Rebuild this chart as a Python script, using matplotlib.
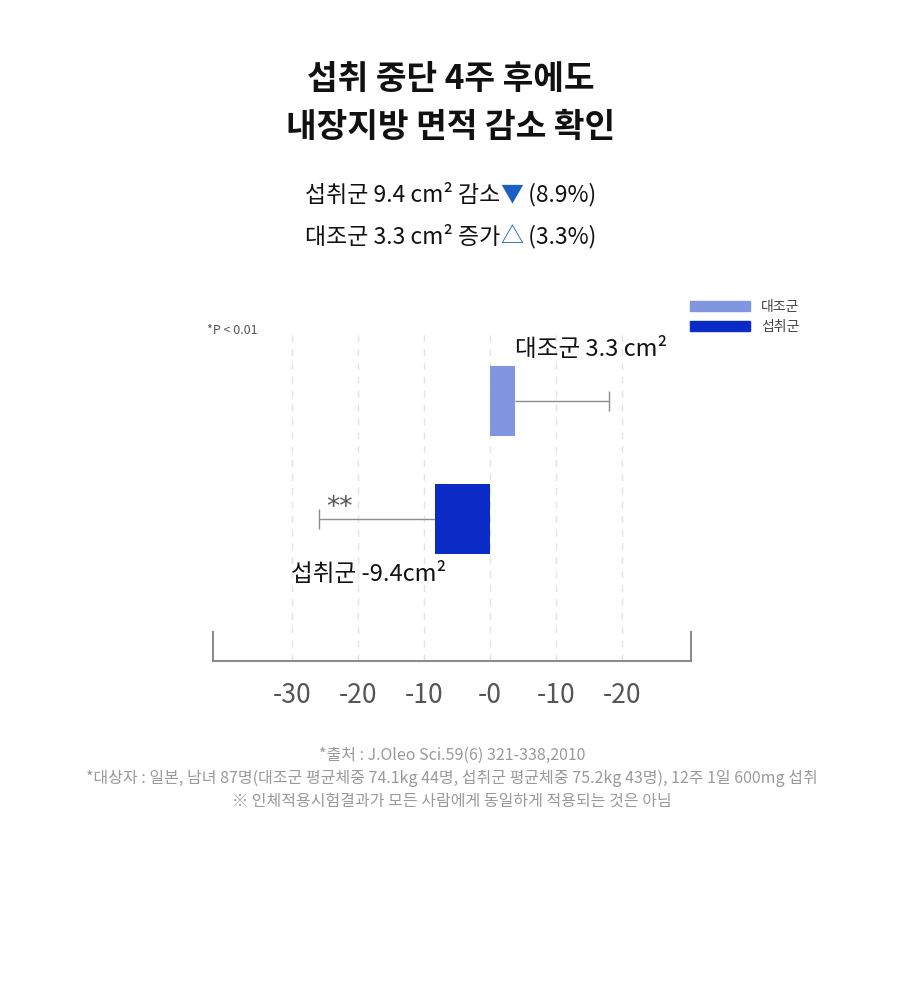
import matplotlib
matplotlib.use('Agg')
import matplotlib.pyplot as plt
from matplotlib.patches import Patch

plt.rcParams['font.family'] = ['Noto Sans CJK KR', 'DejaVu Sans']

## DATA (x in the chart's own grid units)
groups = ['섭취군', '대조군']
bar_values = [-8.3, 3.8]
err_lengths = [17.6, 14.2]
group_colors = ['#0a2bc6', '#8196e0']
bar_labels = ['섭취군 -9.4cm²', '대조군 3.3 cm²']
tick_values = [-30, -20, -10, 0, 10, 20]
tick_labels = ['-30', '-20', '-10', '-0', '-10', '-20']

title_lines = ['섭취 중단 4주 후에도', '내장지방 면적 감소 확인']
summary_lines = [
    [('섭취군 9.4 cm² 감소', '#111111'), ('▼', '#1a5fc4'), (' (8.9%)', '#111111')],
    [('대조군 3.3 cm² 증가', '#111111'), ('△', '#1a5fc4'), (' (3.3%)', '#111111')],
]
notes = ['*출처 : J.Oleo Sci.59(6) 321-338,2010',
         '*대상자 : 일본, 남녀 87명(대조군 평균체중 74.1kg 44명, 섭취군 평균체중 75.2kg 43명), 12주 1일 600mg 섭취',
         '※ 인체적용시험결과가 모든 사람에게 동일하게 적용되는 것은 아님']

W, H = 900, 998
fig = plt.figure(figsize=(W / 100, H / 100), dpi=100)
fig.patch.set_facecolor('white')

#%% titles
fig.text(451 / W, 1 - 80 / H, title_lines[0], ha='center', va='center',
         fontsize=24, fontweight='bold', color='#111111')
fig.text(451 / W, 1 - 128 / H, title_lines[1], ha='center', va='center',
         fontsize=24, fontweight='bold', color='#111111')

# summary lines with a coloured triangle in the middle
renderer = fig.canvas.get_renderer()
for yy, parts in zip([195, 237], summary_lines):
    arts = []
    prefix = ''
    for s, c in parts:
        t = fig.text(0, 1 - yy / H, s, color=c, fontsize=16.5, va='center', ha='left')
        arts.append(t)
    # place pieces one after another
    for i, t in enumerate(arts):
        if i == 0:
            offs = 0
        else:
            probe = fig.text(0, 0, prefix, fontsize=16.5)
            offs = probe.get_window_extent(renderer).width
            probe.remove()
        t.set_x(offs / W)
        prefix += parts[i][0]
    total = arts[-1].get_window_extent(renderer).x1 - arts[0].get_window_extent(renderer).x0
    x0 = 451 - total / 2
    for t in arts:
        t.set_x(t.get_position()[0] + x0 / W)

#%% chart
ax = fig.add_axes([213 / W, 337 / H, 478 / W, 333 / H])
ypos = [0, 1]
ax.barh(ypos, bar_values, height=0.59, color=group_colors, zorder=3)

lower = [e if v < 0 else 0 for v, e in zip(bar_values, err_lengths)]
upper = [e if v >= 0 else 0 for v, e in zip(bar_values, err_lengths)]
eb = ax.errorbar(bar_values, ypos, xerr=[lower, upper], fmt='none', ecolor='#8c8c8c',
                 elinewidth=1, capsize=7, capthick=1, zorder=2)
# keep only the cap at the far end of each error bar
left_caps, right_caps = eb[1]
left_caps.set_markevery([i for i, v in enumerate(lower) if v > 0])
right_caps.set_markevery([i for i, v in enumerate(upper) if v > 0])

ax.set_xlim(-41.97, 30.45)
ax.set_ylim(-1.203, 1.619)
ax.set_xticks(tick_values)
ax.set_xticklabels(tick_labels)
ax.set_yticks([])
ax.tick_params(axis='x', length=0, pad=15, labelsize=19, labelcolor='#555555')
ax.xaxis.grid(True, color='#e3e3e3', linestyle=(0, (5, 5)), linewidth=1)
ax.set_axisbelow(True)

ax.spines['top'].set_visible(False)
for side in ['left', 'right', 'bottom']:
    ax.spines[side].set_color('#8c8c8c')
    ax.spines[side].set_linewidth(1.5)
ax.spines['left'].set_bounds(-1.203, -0.958)
ax.spines['right'].set_bounds(-1.203, -0.958)

# value labels
ax.annotate(bar_labels[1], xy=(bar_values[1], ypos[1]), xytext=(0, 37),
            textcoords='offset points', ha='left', va='center', fontsize=17, color='#111111')
ax.annotate(bar_labels[0], xy=(bar_values[0] - err_lengths[0], ypos[0]), xytext=(-20, -40),
            textcoords='offset points', ha='left', va='center', fontsize=17, color='#111111')
ax.annotate('**', xy=(bar_values[0] - err_lengths[0], ypos[0]), xytext=(5, 8),
            textcoords='offset points', ha='left', va='center', fontsize=19,
            color='#555555', family='DejaVu Sans')

fig.text(207 / W, 1 - 331 / H, '*P < 0.01', fontsize=9, color='#555555', va='center')

handles = [Patch(color=group_colors[1], label=groups[1]),
           Patch(color=group_colors[0], label=groups[0])]
fig.legend(handles=handles, loc='upper left', bbox_to_anchor=(690 / W, 1 - 300 / H),
           frameon=False, fontsize=10, handlelength=4.3, handleheight=0.75,
           handletextpad=0.8, labelspacing=0.45, borderpad=0, borderaxespad=0,
           labelcolor='#444444')

#%% footnotes
for yy, s in zip([755, 778, 801], notes):
    fig.text(452 / W, 1 - yy / H, s, ha='center', va='center', fontsize=11.5, color='#9a9a9a')

fig.savefig('out.png', dpi=100, facecolor='white')
